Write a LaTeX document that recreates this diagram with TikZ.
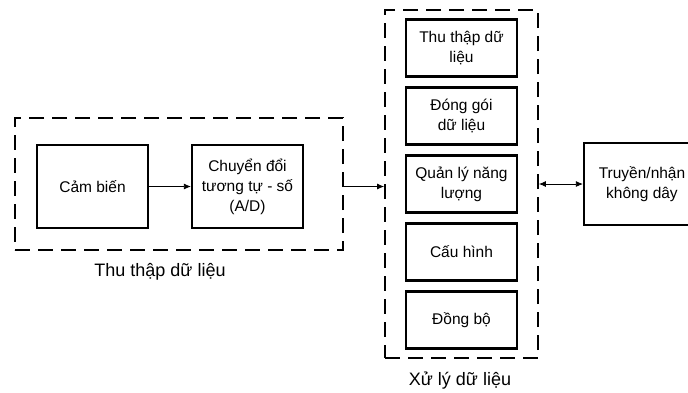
\documentclass[tikz,border=0pt]{standalone}
\usepackage{fontspec}
\setmainfont{Liberation Sans}
\usetikzlibrary{arrows.meta}

\tikzset{
  block/.style={draw, line width=2.2pt, minimum width=111pt, minimum height=57pt,
    align=center, font=\fontsize{15.5}{20}\selectfont, inner sep=2pt},
  group/.style={draw, dashed, line width=1.8pt, dash pattern=on 15pt off 8pt},
  grouplabel/.style={font=\fontsize{18}{22}\selectfont},
  link/.style={line width=0.8pt, >={Latex[length=7pt,width=6pt]}},
}

\begin{document}
\begin{tikzpicture}[x=1pt, y=-1pt]
  \useasboundingbox (0,0) rectangle (688,392);
  \clip (0,0) rectangle (688,392);
  % acquisition group
  \node[group, minimum width=328pt, minimum height=132pt] (acq) at (179,184) {};
  \node[block, minimum height=83pt] (sensor) at (92.5,186.5) {Cảm biến};
  \node[block, minimum height=83pt] (adc) at (247.5,186.5) {Chuyển đổi\\tương tự - số\\(A/D)};
  \node[grouplabel] (acqlabel) at (160,272) {Thu thập dữ liệu};
  % processing group
  \node[group, minimum width=153pt, minimum height=348pt] (proc) at (461.5,184) {};
  \node[block] (collect) at (461.5,48)  {Thu thập dữ\\liệu};
  \node[block] (pack)    at (461.5,116) {Đóng gói\\dữ liệu};
  \node[block] (power)   at (461.5,184) {Quản lý năng\\lượng};
  \node[block] (config)  at (461.5,252) {Cấu hình};
  \node[block] (sync)    at (461.5,320) {Đồng bộ};
  \node[grouplabel] (proclabel) at (460,381) {Xử lý dữ liệu};
  % radio
  \node[block, minimum width=116pt, minimum height=82pt] (radio) at (642,184) {Truyền/nhận\\không dây};
  % connectors
  \draw[link, ->] (sensor.east) -- (adc.west);
  \draw[link, ->] (acq.east |- sensor.east) -- (proc.west |- sensor.east);
  \draw[link, <->] (proc.east |- radio.west) -- (radio.west);
\end{tikzpicture}
\end{document}
